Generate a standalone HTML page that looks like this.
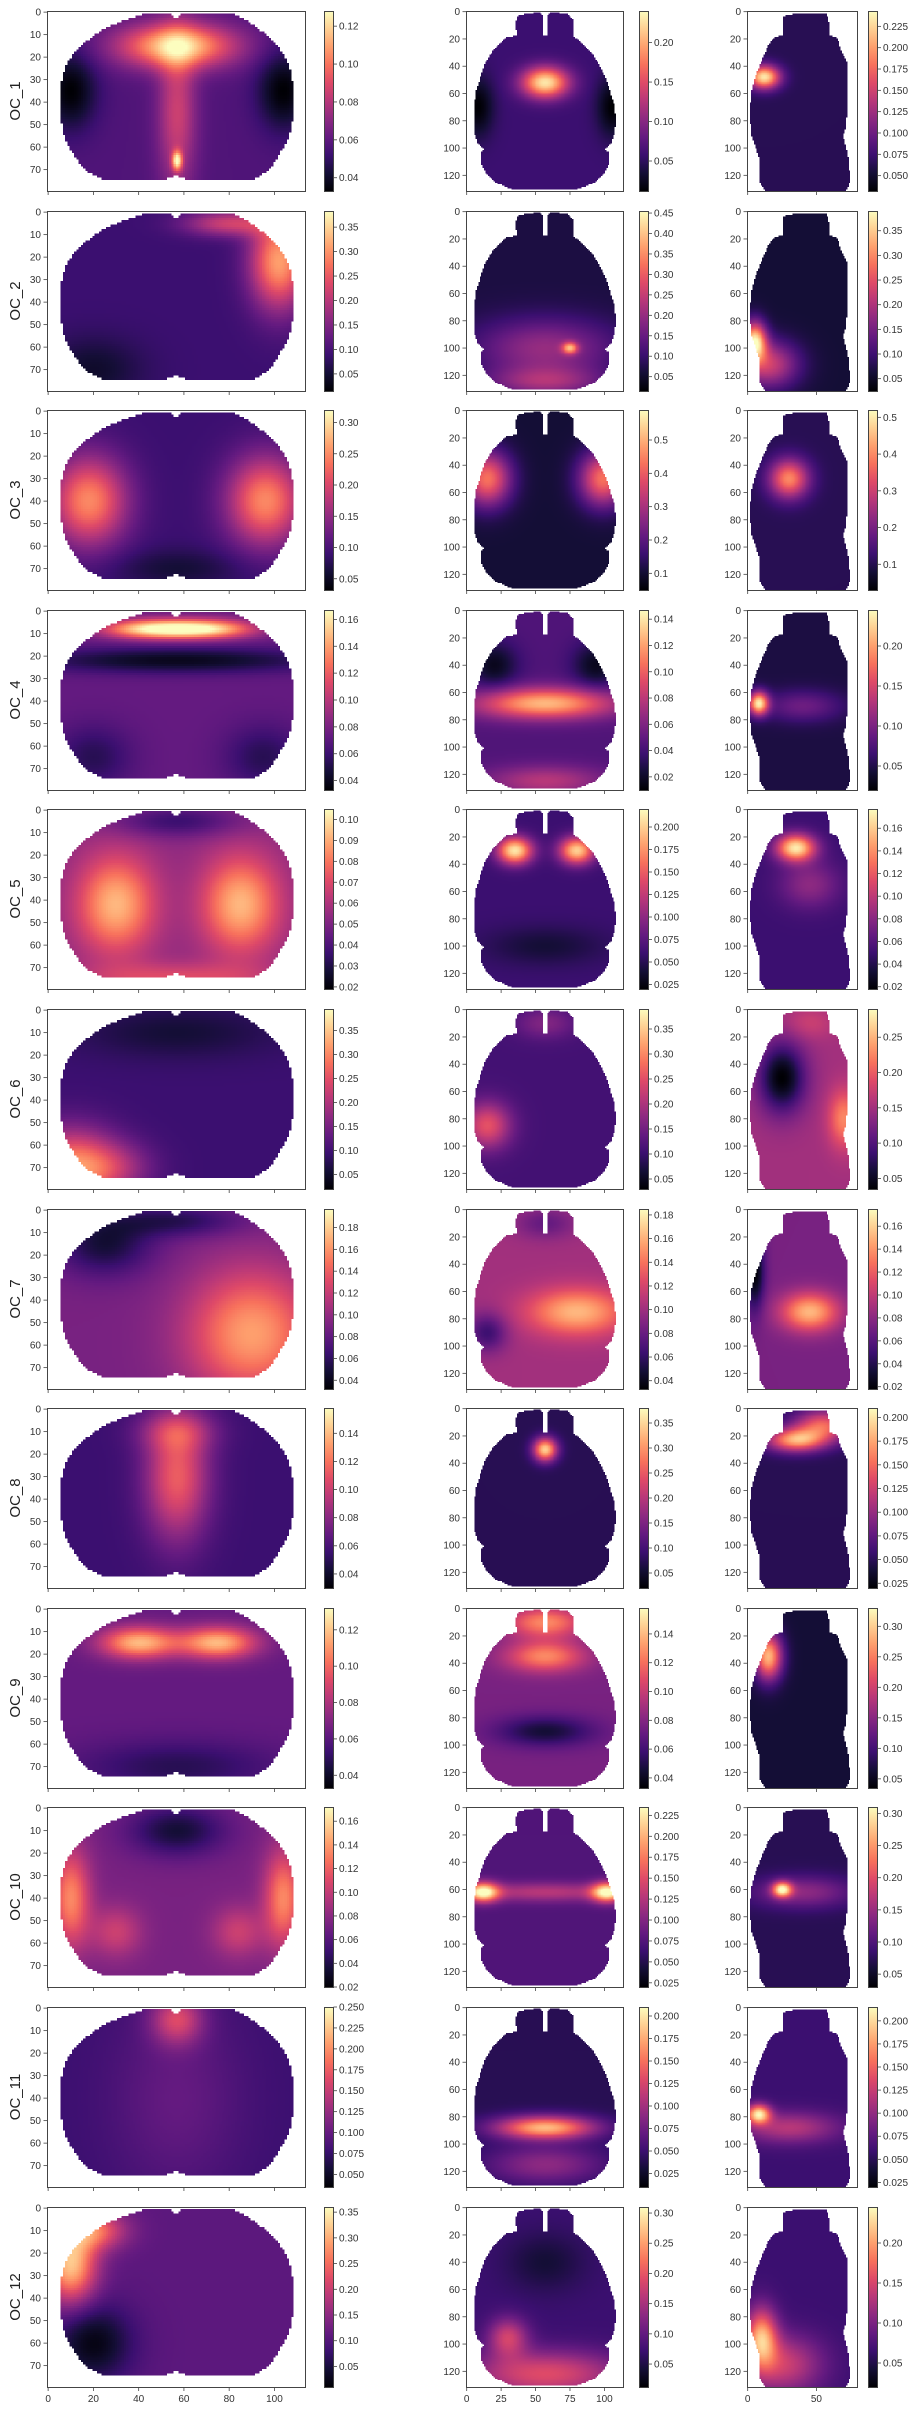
<!DOCTYPE html>
<html><head><meta charset="utf-8">
<style>
html,body{margin:0;padding:0;background:#fff;}
#fig{position:relative;width:919px;height:2411px;overflow:hidden;font-family:"Liberation Sans","DejaVu Sans",sans-serif;}
canvas{position:absolute;image-rendering:pixelated;}
svg{position:absolute;left:0;top:0;}
</style></head>
<body>
<div id="fig">
<svg id="ov" width="919" height="2411"></svg>
</div>
<script>
// ---------- data ----------
const rowLabels = ["OC_1","OC_2","OC_3","OC_4","OC_5","OC_6","OC_7","OC_8","OC_9","OC_10","OC_11","OC_12"];
const rangeC = [[0.033,0.128],[0.015,0.383],[0.032,0.32],[0.033,0.167],[0.019,0.105],[0.02,0.395],[0.032,0.197],[0.03,0.158],[0.033,0.132],[0.02,0.172],[0.035,0.25],[0.01,0.36]];
const rangeH = [[0.012,0.24],[0.015,0.455],[0.05,0.59],[0.01,0.147],[0.02,0.22],[0.03,0.39],[0.033,0.185],[0.02,0.38],[0.033,0.158],[0.02,0.235],[0.01,0.21],[0.012,0.31]];
const rangeS = [[0.032,0.243],[0.025,0.39],[0.03,0.52],[0.02,0.245],[0.018,0.177],[0.035,0.29],[0.018,0.175],[0.02,0.21],[0.035,0.33],[0.03,0.31],[0.02,0.215],[0.02,0.245]];
const ticksC = [
 ["0.04","0.06","0.08","0.10","0.12"],
 ["0.05","0.10","0.15","0.20","0.25","0.30","0.35"],
 ["0.05","0.10","0.15","0.20","0.25","0.30"],
 ["0.04","0.06","0.08","0.10","0.12","0.14","0.16"],
 ["0.02","0.03","0.04","0.05","0.06","0.07","0.08","0.09","0.10"],
 ["0.05","0.10","0.15","0.20","0.25","0.30","0.35"],
 ["0.04","0.06","0.08","0.10","0.12","0.14","0.16","0.18"],
 ["0.04","0.06","0.08","0.10","0.12","0.14"],
 ["0.04","0.06","0.08","0.10","0.12"],
 ["0.02","0.04","0.06","0.08","0.10","0.12","0.14","0.16"],
 ["0.050","0.075","0.100","0.125","0.150","0.175","0.200","0.225","0.250"],
 ["0.05","0.10","0.15","0.20","0.25","0.30","0.35"]];
const ticksH = [
 ["0.05","0.10","0.15","0.20"],
 ["0.05","0.10","0.15","0.20","0.25","0.30","0.35","0.40","0.45"],
 ["0.1","0.2","0.3","0.4","0.5"],
 ["0.02","0.04","0.06","0.08","0.10","0.12","0.14"],
 ["0.025","0.050","0.075","0.100","0.125","0.150","0.175","0.200"],
 ["0.05","0.10","0.15","0.20","0.25","0.30","0.35"],
 ["0.04","0.06","0.08","0.10","0.12","0.14","0.16","0.18"],
 ["0.05","0.10","0.15","0.20","0.25","0.30","0.35"],
 ["0.04","0.06","0.08","0.10","0.12","0.14"],
 ["0.025","0.050","0.075","0.100","0.125","0.150","0.175","0.200","0.225"],
 ["0.025","0.050","0.075","0.100","0.125","0.150","0.175","0.200"],
 ["0.05","0.10","0.15","0.20","0.25","0.30"]];
const ticksS = [
 ["0.050","0.075","0.100","0.125","0.150","0.175","0.200","0.225"],
 ["0.05","0.10","0.15","0.20","0.25","0.30","0.35"],
 ["0.1","0.2","0.3","0.4","0.5"],
 ["0.05","0.10","0.15","0.20"],
 ["0.02","0.04","0.06","0.08","0.10","0.12","0.14","0.16"],
 ["0.05","0.10","0.15","0.20","0.25"],
 ["0.02","0.04","0.06","0.08","0.10","0.12","0.14","0.16"],
 ["0.025","0.050","0.075","0.100","0.125","0.150","0.175","0.200"],
 ["0.05","0.10","0.15","0.20","0.25","0.30"],
 ["0.05","0.10","0.15","0.20","0.25","0.30"],
 ["0.025","0.050","0.075","0.100","0.125","0.150","0.175","0.200"],
 ["0.05","0.10","0.15","0.20"]];
const baseC = [0.25,0.2,0.2,0.3,0.4,0.2,0.35,0.2,0.3,0.35,0.2,0.28];
const baseH = [0.2,0.12,0.1,0.25,0.2,0.22,0.45,0.15,0.35,0.25,0.15,0.2];
const baseS = [0.15,0.1,0.15,0.12,0.2,0.45,0.35,0.15,0.1,0.15,0.2,0.2];
const blobsC = [
 [[10,35,8,12,-0.25],[104,35,8,12,-0.25],[57,15,18,7,0.65],[57,45,6,25,0.3],[57,66,1.5,3,0.6]],
 [[102,22,9,15,0.6],[80,5,14,4,0.35],[20,70,15,10,-0.12]],
 [[18,40,12,14,0.55],[96,40,12,14,0.55],[57,70,20,6,-0.1]],
 [[45,8,15,3,0.6],[70,8,15,3,0.6],[57,22,45,4,-0.25],[20,65,12,10,-0.15],[95,65,12,10,-0.15]],
 [[30,42,12,15,0.45],[85,42,12,15,0.45],[57,5,20,5,-0.2],[57,75,30,5,0.2]],
 [[10,70,14,12,0.55],[30,70,12,8,0.2],[57,10,30,8,-0.1]],
 [[90,55,20,20,0.45],[25,15,15,10,-0.25],[57,5,20,5,-0.2]],
 [[57,30,10,20,0.45],[57,10,12,6,0.2]],
 [[40,15,12,5,0.55],[75,15,12,5,0.55],[57,70,30,8,-0.15]],
 [[10,40,6,15,0.4],[104,40,6,15,0.4],[57,10,15,8,-0.25],[30,55,8,8,0.2],[84,55,8,8,0.2]],
 [[57,5,8,8,0.35],[57,40,20,30,0.1]],
 [[10,25,8,12,0.6],[20,10,10,6,0.4],[20,60,12,12,-0.25]]];
const blobsH = [
 [[57,52,12,8,0.75],[8,70,8,15,-0.2],[106,70,8,15,-0.2]],
 [[57,100,35,15,0.3],[75,100,4,3,0.5],[57,125,30,8,0.3]],
 [[15,50,12,14,0.6],[99,50,12,14,0.6]],
 [[57,68,35,8,0.6],[57,125,30,8,0.25],[20,40,12,12,-0.2],[94,40,12,12,-0.2]],
 [[35,30,9,7,0.75],[80,30,9,7,0.7],[57,100,30,10,-0.1]],
 [[15,85,12,12,0.4],[57,10,15,8,0.15]],
 [[80,75,25,12,0.4],[15,90,10,10,-0.25],[57,10,15,8,-0.15]],
 [[57,30,6,6,0.75]],
 [[57,10,20,8,0.4],[57,35,20,8,0.4],[57,90,25,8,-0.25]],
 [[12,62,8,5,0.7],[102,62,8,5,0.7],[57,62,40,5,0.25]],
 [[57,88,25,6,0.7],[57,115,30,10,0.25]],
 [[57,122,40,12,0.4],[30,95,10,10,0.35],[57,40,20,15,-0.1]]];
const blobsS = [
 [[12,48,8,6,0.8]],
 [[5,95,6,10,0.8],[15,112,15,12,0.45]],
 [[30,50,10,10,0.6]],
 [[8,68,5,6,0.8],[40,70,20,8,0.2]],
 [[35,28,10,7,0.75],[45,55,15,12,0.2]],
 [[25,50,12,18,-0.45],[70,80,8,15,0.3],[45,10,12,8,0.1]],
 [[45,75,15,10,0.5],[5,45,5,20,-0.35]],
 [[35,23,15,6,0.65],[55,12,15,8,0.5]],
 [[15,35,7,12,0.75]],
 [[25,60,5,4,0.7],[40,62,25,8,0.25]],
 [[8,78,6,5,0.7],[30,88,25,8,0.3]],
 [[10,95,8,15,0.6],[25,115,20,15,0.35]]];

// ---------- geometry ----------
const shapeC = [[[57,4],[60,1],[82,1],[88,4],[95,9],[101,14],[105,20],[108,27],[109,35],[109,45],[108,52],[106,58],[103,63],[100,68],[96,72],[91,75],[63,75],[57,73],[51,75],[25,75],[19,72],[14,67],[10,61],[7,54],[6,45],[6,33],[8,25],[12,18],[18,13],[25,8],[34,4],[44,1],[54,1]]];
const shapeH = [
 [[38,3],[53,1],[56,4],[56,19],[37,19],[36,8]],
 [[59,4],[61,1],[74,2],[78,7],[78,19],[59,19]],
 [[29,19],[40,18],[74,18],[80,20],[91,30],[97,40],[102,50],[105,60],[108,70],[109,80],[108,90],[105,98],[100,102],[104,103],[104,112],[100,120],[93,126],[80,131],[34,131],[22,126],[15,120],[11,112],[11,103],[14,102],[9,98],[6,90],[6,70],[7,60],[10,50],[13,40],[19,30]]];
const shapeS = [[[26,4],[35,2],[58,2],[60,10],[60,18],[66,20],[68,28],[73,38],[73,70],[72,85],[70,92],[72,100],[74,110],[75,125],[72,132],[13,132],[9,125],[9,108],[6,100],[3,90],[2,75],[3,60],[6,48],[10,38],[15,26],[20,19],[26,18]]];

const ROW0 = 11, PITCH = 199.6, AH = 180;
const views = [
 {key:"coronal", x:47, w:258, nx:114, ny:80, shape:shapeC, base:baseC, blobs:blobsC, range:rangeC, ticks:ticksC, cbx:324,
  yt:[0,10,20,30,40,50,60,70], xt:[0,20,40,60,80,100]},
 {key:"horizontal", x:466, w:157, nx:114, ny:132, shape:shapeH, base:baseH, blobs:blobsH, range:rangeH, ticks:ticksH, cbx:639,
  yt:[0,20,40,60,80,100,120], xt:[0,25,50,75,100]},
 {key:"sagittal", x:747, w:110, nx:80, ny:132, shape:shapeS, base:baseS, blobs:blobsS, range:rangeS, ticks:ticksS, cbx:868,
  yt:[0,20,40,60,80,100,120], xt:[0,50]}];

const magmaStops = [[0,0,0,4],[0.1,20,14,54],[0.2,59,15,112],[0.3,100,26,128],[0.4,140,41,129],[0.5,183,55,121],[0.6,222,73,104],[0.7,247,112,92],[0.8,254,159,109],[0.9,254,207,146],[1,252,253,191]];
function magma(t){
  t=Math.max(0,Math.min(1,t));
  for(let i=1;i<magmaStops.length;i++){
    const a=magmaStops[i-1],b=magmaStops[i];
    if(t<=b[0]){const f=(t-a[0])/(b[0]-a[0]);return [a[1]+(b[1]-a[1])*f,a[2]+(b[2]-a[2])*f,a[3]+(b[3]-a[3])*f];}
  }
  return magmaStops[magmaStops.length-1].slice(1);
}

const fig=document.getElementById('fig');
const svg=document.getElementById('ov');
const NS="http://www.w3.org/2000/svg";
function mk(tag,attrs,parent){const e=document.createElementNS(NS,tag);for(const k in attrs)e.setAttribute(k,attrs[k]);(parent||svg).appendChild(e);return e;}

rowLabels.forEach((lab,r)=>{
  const y0 = Math.round(ROW0 + r*PITCH);
  const g = mk('g',{});
  
  
  const yl = mk('text',{x:0,y:0,'font-size':15,fill:'#222','text-anchor':'middle',transform:`translate(20,${y0+AH/2}) rotate(-90)`},g);
  yl.textContent=lab;
  
  

  views.forEach(v=>{
    const cv=document.createElement('canvas');
    cv.width=v.nx; cv.height=v.ny;
    cv.style.left=v.x+'px'; cv.style.top=y0+'px';
    cv.style.width=v.w+'px'; cv.style.height=AH+'px';
    
    
    fig.insertBefore(cv, svg);
    const ctx=cv.getContext('2d');
    const path=new Path2D();
    v.shape.forEach(poly=>{poly.forEach((p,i)=>i?path.lineTo(p[0],p[1]):path.moveTo(p[0],p[1]));path.closePath();});
    const img=ctx.createImageData(v.nx,v.ny);
    const base=v.base[r], bl=v.blobs[r];
    for(let j=0;j<v.ny;j++)for(let i=0;i<v.nx;i++){
      if(!ctx.isPointInPath(path,i+0.5,j+0.5))continue;
      let val=base;
      bl.forEach(b=>{const dx=(i-b[0])/b[2],dy=(j-b[1])/b[3];val+=b[4]*Math.exp(-0.5*(dx*dx+dy*dy));});
      const c=magma(val);const k=(j*v.nx+i)*4;
      img.data[k]=c[0];img.data[k+1]=c[1];img.data[k+2]=c[2];img.data[k+3]=255;
    }
    ctx.putImageData(img,0,0);

    const fr=mk('rect',{x:v.x+0.5,y:y0+0.5,width:v.w,height:AH,fill:'none',stroke:'#444','stroke-width':1},g);
    
    
    v.yt.forEach(t=>{
      const py=y0+(t+0.5)*AH/v.ny;
      mk('line',{x1:v.x-3.5,x2:v.x,y1:py,y2:py,stroke:'#444','stroke-width':0.8},g);
      const tx=mk('text',{x:v.x-6,y:py+3.5,'font-size':10,fill:'#333','text-anchor':'end'},g);
      tx.textContent=t;
      
      
    });
    v.xt.forEach(t=>{
      const px=v.x+(t+0.5)*v.w/v.nx;
      mk('line',{x1:px,x2:px,y1:y0+AH+0.5,y2:y0+AH+4,stroke:'#444','stroke-width':0.8},g);
      if(r===rowLabels.length-1){
        const tx=mk('text',{x:px,y:y0+AH+15,'font-size':10,fill:'#333','text-anchor':'middle'},g);
        tx.textContent=t;
        
        
      }
    });
    const cb=document.createElement('canvas');
    cb.width=1; cb.height=180;
    cb.style.left=v.cbx+'px'; cb.style.top=y0+'px';
    cb.style.width='9px'; cb.style.height=AH+'px';
    
    
    fig.insertBefore(cb, svg);
    const cctx=cb.getContext('2d');const cim=cctx.createImageData(1,180);
    for(let j=0;j<180;j++){const c=magma(1-(j+0.5)/180);cim.data[j*4]=c[0];cim.data[j*4+1]=c[1];cim.data[j*4+2]=c[2];cim.data[j*4+3]=255;}
    cctx.putImageData(cim,0,0);
    mk('rect',{x:v.cbx+0.5,y:y0+0.5,width:9,height:AH,fill:'none',stroke:'#444','stroke-width':1},g);
    const rg=v.range[r];
    v.ticks[r].forEach(s=>{
      const val=parseFloat(s);
      const py=y0+AH-(val-rg[0])/(rg[1]-rg[0])*AH;
      if(py<y0-1||py>y0+AH+1)return;
      mk('line',{x1:v.cbx+9.5,x2:v.cbx+13,y1:py,y2:py,stroke:'#444','stroke-width':0.8},g);
      const tx=mk('text',{x:v.cbx+15,y:py+3.5,'font-size':10,fill:'#333'},g);
      tx.textContent=s;
      
      
    });
  });
});
</script>
</body></html>
